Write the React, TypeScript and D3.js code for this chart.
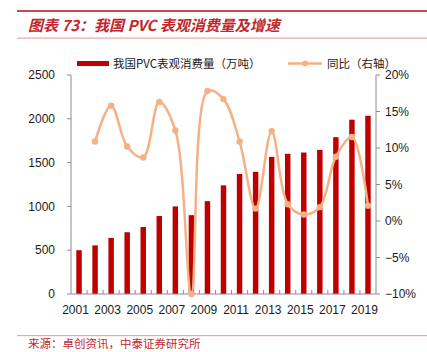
import * as d3 from "d3";

// ---------------------------------------------------------------------------
// Data
// ---------------------------------------------------------------------------

const YEARS = [
  "2001", "2002", "2003", "2004", "2005", "2006", "2007", "2008", "2009", "2010",
  "2011", "2012", "2013", "2014", "2015", "2016", "2017", "2018", "2019",
];
// 我国PVC表观消费量（万吨）
const CONSUMPTION = [
  500, 555, 640, 705, 765, 890, 1000, 900, 1060, 1240,
  1370, 1395, 1565, 1600, 1615, 1645, 1790, 1990, 2035,
];
// 同比（右轴）, % — no value for 2001
const YOY: (number | null)[] = [
  null, 10.9, 15.8, 10.2, 8.7, 16.3, 12.4, -10, 17.8, 16.7,
  10.9, 1.7, 12.3, 2.3, 0.9, 1.9, 8.8, 11.5, 2.1,
];
const LEFT_TICKS = [0, 500, 1000, 1500, 2000, 2500];
const RIGHT_TICKS = [-10, -5, 0, 5, 10, 15, 20];
const X_LABELS = YEARS.filter((_, i) => i % 2 === 0);

// ---------------------------------------------------------------------------
// Style
// ---------------------------------------------------------------------------

const BAR_FILL = "#C00000";
const LINE_STROKE = "#F4B183";
const AXIS_STROKE = "#8c8c8c";
const TEXT_FILL = "#1a1a1a";
const TITLE_FILL = "#C0282D";
const FONT = "'Liberation Sans', Arial, sans-serif";
const CJK = "'Noto Sans CJK SC', sans-serif";

const W = 427;
const H = 352;
const PLOT = { left: 71, right: 376, top: 75, bottom: 294 };

export default function App() {
  const x = d3.scaleBand<string>().domain(YEARS).range([PLOT.left, PLOT.right]).paddingInner(0.66).paddingOuter(0.33);
  const band = d3.scaleBand<string>().domain(YEARS).range([PLOT.left, PLOT.right]);
  const yL = d3.scaleLinear().domain([0, 2500]).range([PLOT.bottom, PLOT.top]);
  const yR = d3.scaleLinear().domain([-10, 20]).range([PLOT.bottom, PLOT.top]);

  const pts = YEARS.map((yr, i) => ({ yr, v: YOY[i] })).filter((d) => d.v !== null) as { yr: string; v: number }[];
  const cx = (yr: string) => (band(yr) ?? 0) + band.bandwidth() / 2;
  const line = d3
    .line<{ yr: string; v: number }>()
    .x((d) => cx(d.yr))
    .y((d) => yR(d.v))
    .curve(d3.curveCatmullRom.alpha(0.5));

  return (
    <svg
      width={W}
      height={H}
      style={{ position: "absolute", left: 0, top: 0, background: "#fff" }}
    >
      {/* Header rules + title */}
      <rect x={17} y={10} width={W - 17} height={2} fill="#C8494A" />
      <text
        x={28}
        y={31}
        fontFamily={CJK}
        fontSize={15}
        fontWeight={700}
        fontStyle="italic"
        fill={TITLE_FILL}
      >
        图表 73：我国 PVC 表观消费量及增速
      </text>
      <rect x={17} y={37.5} width={W - 17} height={1.2} fill="#E8A9A9" />

      {/* Legend */}
      <rect x={77} y={61} width={32} height={5} fill={BAR_FILL} />
      <text x={113} y={64} dy="0.35em" fontFamily={CJK} fontSize={11.5} fill={TEXT_FILL}>
        我国PVC表观消费量（万吨）
      </text>
      <line x1={288} x2={322} y1={63.5} y2={63.5} stroke={LINE_STROKE} strokeWidth={2.5} />
      <circle cx={305} cy={63.5} r={3} fill={LINE_STROKE} />
      <text x={327} y={64} dy="0.35em" fontFamily={CJK} fontSize={11.5} fill={TEXT_FILL}>
        同比（右轴）
      </text>

      {/* Bars */}
      {YEARS.map((yr, i) => (
        <rect
          key={yr}
          x={x(yr)}
          y={yL(CONSUMPTION[i])}
          width={x.bandwidth()}
          height={PLOT.bottom - yL(CONSUMPTION[i])}
          fill={BAR_FILL}
        />
      ))}

      {/* Axes */}
      <line x1={PLOT.left} x2={PLOT.left} y1={PLOT.top} y2={PLOT.bottom} stroke={AXIS_STROKE} />
      <line x1={PLOT.right} x2={PLOT.right} y1={PLOT.top} y2={PLOT.bottom} stroke={AXIS_STROKE} />
      <line x1={PLOT.left} x2={PLOT.right} y1={PLOT.bottom} y2={PLOT.bottom} stroke={AXIS_STROKE} />

      {LEFT_TICKS.map((t) => (
        <g key={`l${t}`}>
          <line x1={PLOT.left - 4} x2={PLOT.left} y1={yL(t)} y2={yL(t)} stroke={AXIS_STROKE} />
          <text
            x={55}
            y={yL(t)}
            dy="0.35em"
            textAnchor="end"
            fontFamily={FONT}
            fontSize={12}
            fill={TEXT_FILL}
          >
            {t}
          </text>
        </g>
      ))}

      {RIGHT_TICKS.map((t) => (
        <g key={`r${t}`}>
          <line x1={PLOT.right} x2={PLOT.right + 4} y1={yR(t)} y2={yR(t)} stroke={AXIS_STROKE} />
          <text
            x={385}
            y={yR(t)}
            dy="0.35em"
            fontFamily={FONT}
            fontSize={12}
            fill={TEXT_FILL}
          >
            {t < 0 ? `\u2212${-t}%` : `${t}%`}
          </text>
        </g>
      ))}

      {/* X ticks at band boundaries */}
      {YEARS.slice(1).map((yr) => (
        <line
          key={`xt${yr}`}
          x1={band(yr)}
          x2={band(yr)}
          y1={PLOT.bottom}
          y2={PLOT.bottom - 4}
          stroke={AXIS_STROKE}
        />
      ))}
      {X_LABELS.map((yr) => (
        <text
          key={`xl${yr}`}
          x={cx(yr) - 3.5}
          y={310}
          dy="0.35em"
          textAnchor="middle"
          fontFamily={FONT}
          fontSize={12}
          fill={TEXT_FILL}
        >
          {yr}
        </text>
      ))}

      {/* YoY line */}
      <path d={line(pts) ?? ""} fill="none" stroke={LINE_STROKE} strokeWidth={2.5} />
      {pts.map((d) => (
        <circle key={`p${d.yr}`} cx={cx(d.yr)} cy={yR(d.v)} r={3.2} fill={LINE_STROKE} />
      ))}

      {/* Footer */}
      <rect x={17} y={335} width={W - 17} height={1.2} fill="#E8A9A9" />
      <text x={28} y={344} dy="0.35em" fontFamily={CJK} fontSize={11.5} fill={TITLE_FILL}>
        来源：卓创资讯，中泰证券研究所
      </text>
    </svg>
  );
}
